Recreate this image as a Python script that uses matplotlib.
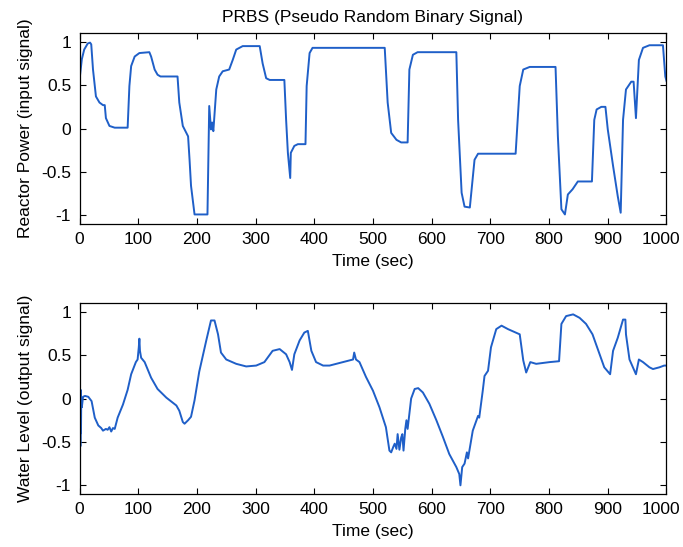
import matplotlib
matplotlib.use("Agg")
import matplotlib.pyplot as plt
import matplotlib.transforms as mtransforms
import numpy as np

# Input signal (reactor power) breakpoints
t_in = [0, 4, 8, 14, 18, 20, 23, 28, 34, 40, 43, 45, 51, 60, 82, 85, 88, 94, 102, 119,
        122, 128, 133, 138, 167, 170, 176, 182, 185, 187.5, 190, 196, 218, 221, 224, 226,
        228, 233, 238, 244, 255, 261, 267, 278, 307, 312, 318, 324, 349, 352, 355, 359,
        360, 366, 372, 385, 387, 392, 397, 520, 525, 531, 540, 548, 559, 562, 568, 576,
        642, 645, 651, 656, 665, 673, 679, 743, 750, 756, 767, 811, 815, 821, 827, 832,
        840, 849, 873, 877, 881, 889, 896, 900, 909, 917, 922, 926, 931, 940, 944, 948,
        953, 960, 971, 994, 998, 1000]
u_in = [0.56, 0.80, 0.91, 0.98, 0.99, 0.97, 0.68, 0.37, 0.30, 0.27, 0.27, 0.12, 0.03, 0.01,
        0.01, 0.49, 0.72, 0.83, 0.87, 0.88, 0.83, 0.68, 0.62, 0.60, 0.60, 0.30, 0.03, -0.05,
        -0.09, -0.36, -0.66, -0.99, -0.99, 0.26, -0.01, 0.07, -0.03, 0.45, 0.60, 0.66, 0.68,
        0.79, 0.91, 0.95, 0.95, 0.75, 0.58, 0.56, 0.56, 0.10, -0.28, -0.57, -0.28, -0.20,
        -0.18, -0.18, 0.49, 0.87, 0.93, 0.93, 0.30, -0.05, -0.13, -0.16, -0.16, 0.68, 0.85,
        0.88, 0.88, 0.10, -0.74, -0.90, -0.91, -0.36, -0.29, -0.29, 0.49, 0.68, 0.71, 0.71,
        -0.09, -0.93, -0.99, -0.76, -0.70, -0.61, -0.61, 0.10, 0.22, 0.25, 0.25, -0.01,
        -0.43, -0.78, -0.97, 0.10, 0.45, 0.54, 0.54, 0.12, 0.79, 0.93, 0.96, 0.96, 0.60, 0.55]

# Output signal (water level)
t_out = [0, 0.5, 1, 1.5, 2, 2.5, 3, 4, 6, 9.4, 15, 20.6, 26, 32, 37, 40, 45, 48, 51, 54, 57,
         60, 65, 74, 82, 88, 96, 99, 101, 102, 103, 105, 111, 122, 133, 148, 165, 170, 176,
         179, 185, 190, 196, 204, 216, 224, 230, 236, 241, 250, 267, 284, 301, 315, 329,
         341, 352, 358, 362, 366, 375, 383, 389, 395, 403, 415, 426, 449, 466, 468, 471,
         477, 488, 500, 511, 522, 528, 531, 535, 537, 540, 542, 545, 548, 550, 552, 555,
         557, 559, 565, 571, 577, 585, 596, 608, 619, 630, 642, 647, 649, 652, 656, 660,
         662, 670, 679, 681, 687, 690, 696, 701, 710, 719, 730, 750, 756, 761, 768, 778,
         801, 817, 821, 829, 841, 852, 863, 874, 883, 894, 904, 909, 917, 926, 930, 931,
         937, 948, 953, 960, 971, 977, 988, 996, 1000]
y_out = [0.10, -0.70, 0.05, -0.55, 0.10, -0.40, 0.0, -0.10, 0.02, 0.03, 0.02, -0.03, -0.22,
         -0.31, -0.34, -0.37, -0.35, -0.36, -0.33, -0.38, -0.34, -0.35, -0.22, -0.07, 0.10,
         0.28, 0.42, 0.45, 0.59, 0.69, 0.55, 0.47, 0.42, 0.24, 0.11, 0.01, -0.08, -0.14,
         -0.27, -0.29, -0.25, -0.21, -0.02, 0.31, 0.67, 0.90, 0.90, 0.74, 0.53, 0.45, 0.40,
         0.37, 0.38, 0.42, 0.55, 0.57, 0.51, 0.42, 0.33, 0.51, 0.67, 0.76, 0.78, 0.55, 0.42,
         0.38, 0.38, 0.42, 0.45, 0.53, 0.45, 0.42, 0.25, 0.09, -0.10, -0.33, -0.60, -0.62,
         -0.55, -0.52, -0.58, -0.41, -0.59, -0.45, -0.41, -0.60, -0.35, -0.25, -0.35, 0.00,
         0.11, 0.12, 0.07, -0.06, -0.25, -0.44, -0.64, -0.79, -0.87, -1.00, -0.79, -0.75,
         -0.62, -0.69, -0.37, -0.20, -0.22, 0.09, 0.26, 0.32, 0.59, 0.80, 0.84, 0.80, 0.74,
         0.44, 0.30, 0.42, 0.40, 0.42, 0.43, 0.86, 0.95, 0.97, 0.93, 0.86, 0.74, 0.57, 0.36,
         0.28, 0.55, 0.70, 0.91, 0.91, 0.74, 0.45, 0.28, 0.45, 0.42, 0.36, 0.34, 0.36, 0.38,
         0.38]

xticks = [0, 100, 200, 300, 400, 500, 600, 700, 800, 900, 1000]
yticks = [-1, -0.5, 0, 0.5, 1]
ytick_labels = ["-1", "-0.5", "0", "0.5", "1"]

plt.rcParams['font.family'] = ['Liberation Sans', 'DejaVu Sans']
plt.rcParams['font.size'] = 12.5

fig = plt.figure(figsize=(6.83, 5.47), dpi=100)
line_color = '#1f5fc8'

ax1 = fig.add_axes([0.1164, 0.5905, 0.8594, 0.349])
ax2 = fig.add_axes([0.1164, 0.0969, 0.8594, 0.349])

for ax, t, v, ylab in [(ax1, t_in, u_in, 'Reactor Power (input signal)'),
                       (ax2, t_out, y_out, 'Water Level (output signal)')]:
    ax.plot(t, v, color=line_color, lw=1.4)
    ax.set_xlim(0, 1000)
    ax.set_ylim(-1.1, 1.1)
    ax.set_xticks(xticks)
    ax.set_yticks(yticks)
    ax.set_yticklabels(ytick_labels)
    ax.tick_params(direction='in', top=True, right=True, length=4, width=0.8,
                   pad=6, labelsize=12.5)
    for s in ax.spines.values():
        s.set_linewidth(0.9)
    ax.set_xlabel('Time (sec)', labelpad=5, fontsize=12.5)
    ax.set_ylabel(ylab, labelpad=6, fontsize=12.5)

ax1.set_title('PRBS (Pseudo Random Binary Signal)', pad=8, fontsize=12.5)

# nudge the last x tick label slightly left so it stays inside the figure
for ax in (ax1, ax2):
    fig.canvas.draw()
    lab = ax.get_xticklabels()[-1]
    lab.set_transform(lab.get_transform() +
                      mtransforms.ScaledTranslation(-4 / 72, 0, fig.dpi_scale_trans))

fig.savefig('out.png', dpi=100)
